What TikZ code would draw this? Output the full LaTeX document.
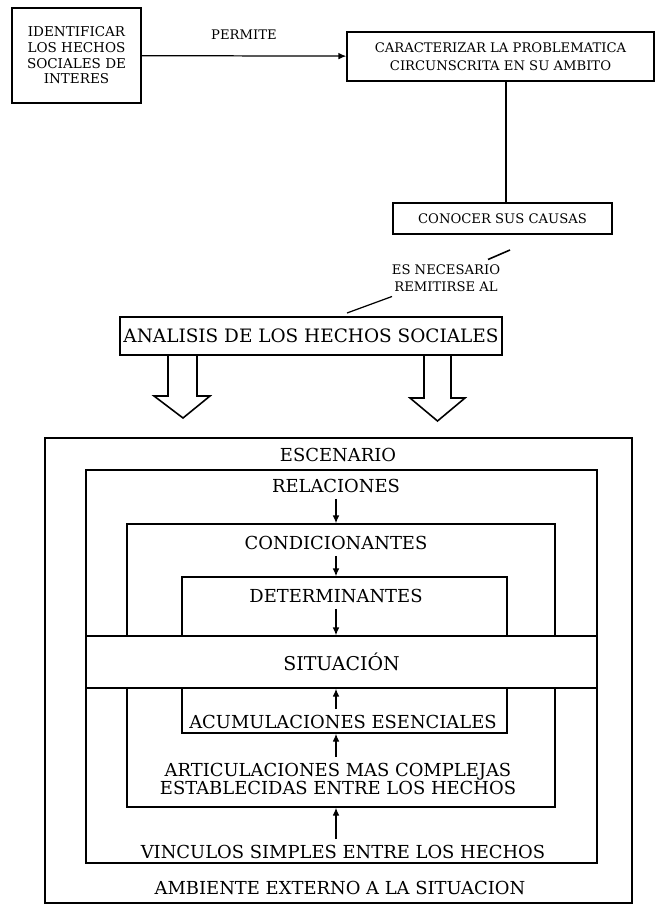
\documentclass[tikz,border=0pt]{standalone}
\usepackage{fontspec}
\setmainfont{DejaVu Serif}
\usetikzlibrary{arrows.meta, positioning}

\begin{document}
\begin{tikzpicture}[
  box/.style={draw, line width=0.8pt, align=center, inner sep=2pt},
  small/.style={font=\fontsize{7.5}{10}\selectfont},
  big/.style={font=\fontsize{10.2}{10.2}\selectfont},
  arr/.style={-{Latex[length=4.5pt, width=3.8pt]}, line width=0.7pt},
  bigarr/.style={line width=0.9pt, line join=miter}
]
\useasboundingbox (0,0) rectangle (13.12,-18.08);

% upper chain
\node[box, font=\fontsize{7.7}{8.9}\selectfont, minimum width=2.58cm, minimum height=1.9cm] (ident) at (1.53,-1.11) {IDENTIFICAR\\LOS HECHOS\\SOCIALES DE\\INTERES};
\node[box, small, minimum width=6.14cm, minimum height=0.98cm] (caract) at (10.01,-1.13) {CARACTERIZAR LA PROBLEMATICA\\CIRCUNSCRITA EN SU AMBITO};
\node[box, small, minimum width=4.38cm, minimum height=0.62cm] (conocer) at (10.05,-4.37) {CONOCER SUS CAUSAS};
\node[small, align=center, inner sep=0pt] (necrem) at (8.92,-5.56) {ES NECESARIO\\REMITIRSE AL};
\node[box, font=\fontsize{10.5}{10.5}\selectfont, minimum width=7.64cm, minimum height=0.76cm] (analisis) at (6.22,-6.72) {ANALISIS DE LOS HECHOS SOCIALES};

\draw[arr] (ident) -- node[small, above=0.2cm] (permite) {PERMITE} (caract);
\draw[line width=0.7pt] ([xshift=0.11cm]caract.south) -- ([xshift=0.11cm]caract.south |- conocer.north);

\coordinate (up1) at (9.76,-5.19);
\coordinate (up2) at (10.2,-5.0);
\coordinate (lo1) at (7.84,-5.93);
\coordinate (lo2) at (6.94,-6.26);
\draw[line width=0.9pt] (up1) -- (up2);
\draw[line width=0.7pt] (lo1) -- (lo2);

% two hollow arrows
\draw[bigarr] (3.36,-7.1) -- (3.36,-7.92) -- (3.08,-7.92) -- (3.66,-8.36) -- (4.2,-7.92) -- (3.94,-7.92) -- (3.94,-7.1);
\draw[bigarr] (8.48,-7.1) -- (8.48,-7.96) -- (8.2,-7.96) -- (8.75,-8.42) -- (9.3,-7.96) -- (9.02,-7.96) -- (9.02,-7.1);

% nested frames
\node[box, minimum width=11.74cm, minimum height=9.3cm] (escbox) at (6.77,-13.41) {};
\node[box, minimum width=10.22cm, minimum height=7.86cm] (relbox) at (6.83,-13.33) {};
\node[box, minimum width=8.56cm, minimum height=5.66cm] (condbox) at (6.82,-13.31) {};
\node[box, minimum width=6.5cm, minimum height=3.12cm] (detbox) at (6.89,-13.10) {};
\node[box, font=\fontsize{10.8}{10.8}\selectfont, fill=white, minimum width=10.22cm, minimum height=1.04cm] (sit) at (6.83,-13.24) {SITUACIÓN};

\node[big] (esc) at (6.76,-9.10) {ESCENARIO};
\node[big] (rel) at (6.72,-9.72) {RELACIONES};
\node[big] (cond) at (6.72,-10.86) {CONDICIONANTES};
\node[big] (det) at (6.72,-11.92) {DETERMINANTES};
\node[big] (acum) at (6.86,-14.44) {ACUMULACIONES ESENCIALES};
\node[big, align=center] (artic) at (6.76,-15.58) {ARTICULACIONES MAS COMPLEJAS\\ESTABLECIDAS ENTRE LOS HECHOS};
\node[big] (vinc) at (6.86,-17.04) {VINCULOS SIMPLES ENTRE LOS HECHOS};
\node[big] (amb) at (6.8,-17.76) {AMBIENTE EXTERNO A LA SITUACION};

\draw[arr] (rel) -- (rel |- condbox.north);
\draw[arr] (cond) -- (cond |- detbox.north);
\draw[arr] (det) -- (det |- sit.north);
\draw[arr] ([xshift=-0.14cm]acum.north) -- ([xshift=-0.14cm]acum.north |- sit.south);
\draw[arr] ([xshift=-0.04cm]artic.north) -- ([xshift=-0.04cm]artic.north |- detbox.south);
\draw[arr] ([xshift=-0.14cm]vinc.north) -- ([xshift=-0.14cm]vinc.north |- condbox.south);
\end{tikzpicture}
\end{document}
